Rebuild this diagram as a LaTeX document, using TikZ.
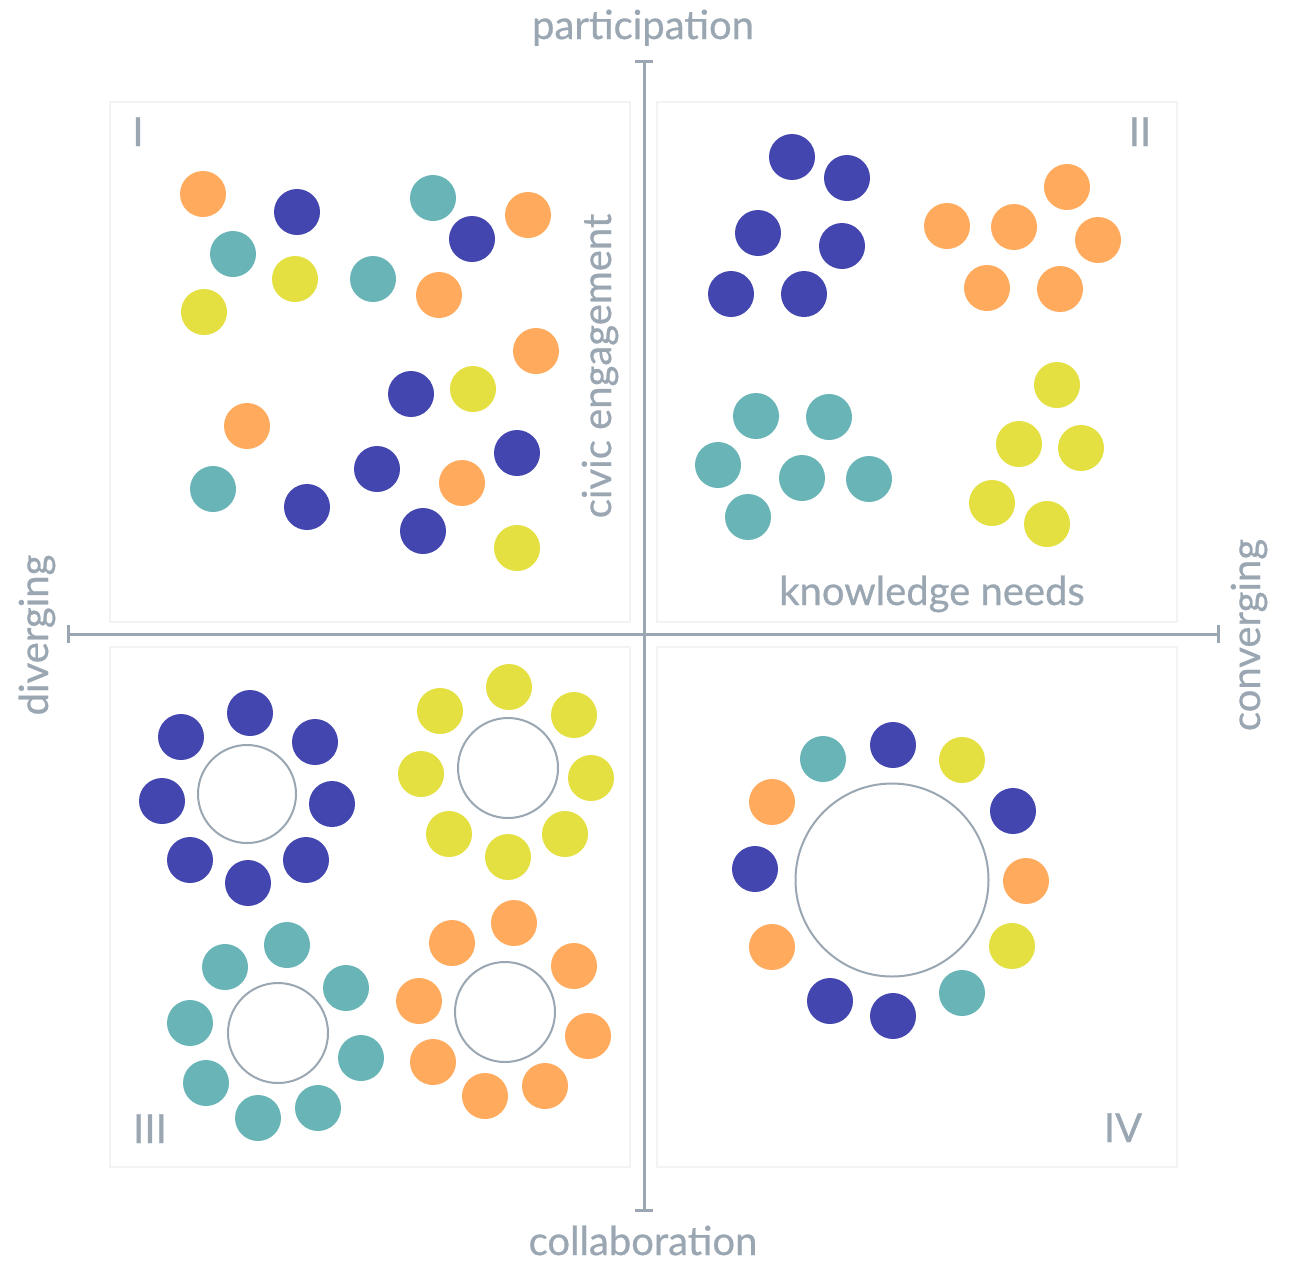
\documentclass[tikz,border=0pt]{standalone}
\usepackage{fontspec}
\setmainfont{Lato}
\newfontfamily\labfont{Lato}[FakeBold=0.6]
\definecolor{cOr}{HTML}{FFAA5C}
\definecolor{cBl}{HTML}{4346AF}
\definecolor{cTe}{HTML}{69B4B6}
\definecolor{cYe}{HTML}{E5E041}
\definecolor{cGr}{HTML}{9AA7B2}
\definecolor{cBox}{HTML}{F3F3F3}
\begin{document}
\begin{tikzpicture}[x=1pt,y=-1pt,
  dot/.style={circle,fill=#1,minimum size=46pt,inner sep=0pt,draw=none},
  ring/.style={circle,draw=cGr,line width=2pt,minimum size=#1,inner sep=0pt},
  lab/.style={text=cGr,font=\labfont\fontsize{40}{48}\selectfont,inner sep=0pt,anchor=base},
  axisline/.style={draw=cGr,line width=3pt},
  qbox/.style={draw=cBox,line width=1.5pt}]
\useasboundingbox[fill=white] (0,0) rectangle (1289,1261);

% quadrant boxes
\draw[qbox] (110,102) rectangle (630,622);
\draw[qbox] (657,102) rectangle (1177,622);
\draw[qbox] (110,647) rectangle (630,1167);
\draw[qbox] (657,647) rectangle (1177,1167);

% axes
\coordinate (top) at (644,61);
\coordinate (bot) at (644,1210);
\coordinate (lft) at (68,634);
\coordinate (rgt) at (1218,634);
\draw[axisline] (top) -- (bot);
\draw[axisline] (lft) -- (rgt);
\draw[axisline] ([xshift=-9pt]top) -- ([xshift=9pt]top);
\draw[axisline] ([xshift=-9pt]bot) -- ([xshift=9pt]bot);
\draw[axisline] ([yshift=-9pt]lft) -- ([yshift=9pt]lft);
\draw[axisline] ([yshift=-9pt]rgt) -- ([yshift=9pt]rgt);

% labels
\node[lab] (participation) at (643,39) {participation};
\node[lab] (collaboration) at (643,1255) {collaboration};
\node[lab,rotate=90] (diverging) at (48,635) {diverging};
\node[lab,rotate=90] (converging) at (1260,635) {converging};
\node[lab,rotate=90] (civic) at (611,366) {civic engagement};
\node[lab] (knowledge) at (932,605) {knowledge needs};
\node[lab] (qI) at (138,146) {I};
\node[lab] (qII) at (1140,146) {II};
\node[lab] (qIII) at (150,1143) {III};
\node[lab] (qIV) at (1123,1142) {IV};

% quadrant I
\foreach \n/\x/\y/\c in {
  a1/203/194/cOr, a2/297/212/cBl, a3/433/198/cTe, a4/528/215/cOr,
  a5/233/254/cTe, a6/472/239/cBl, a7/295/279/cYe, a8/373/279/cTe,
  a9/439/295/cOr, a10/204/312/cYe, a11/536/351/cOr, a12/411/394/cBl,
  a13/473/389/cYe, a14/247/426/cOr, a15/517/453/cBl, a16/213/489/cTe,
  a17/377/469/cBl, a18/462/483/cOr, a19/307/507/cBl, a20/423/531/cBl,
  a21/517/548/cYe}
  \node[dot=\c] (\n) at (\x,\y) {};

% quadrant II
\foreach \n/\x/\y/\c in {
  b1/792/157/cBl, b2/847/178/cBl, b3/758/233/cBl, b4/842/246/cBl,
  b5/731/294/cBl, b6/804/294/cBl,
  b7/1067/187/cOr, b8/947/226/cOr, b9/1014/227/cOr, b10/1098/240/cOr,
  b11/987/288/cOr, b12/1060/289/cOr,
  b13/1057/385/cYe, b14/1019/444/cYe, b15/1081/448/cYe, b16/992/503/cYe,
  b17/1047/524/cYe,
  b18/756/416/cTe, b19/829/417/cTe, b20/718/465/cTe, b21/802/478/cTe,
  b22/869/479/cTe, b23/748/517/cTe}
  \node[dot=\c] (\n) at (\x,\y) {};

% quadrant III
\node[ring=98pt] (ringBl) at (247,794) {};
\node[ring=100pt] (ringYe) at (508,768) {};
\node[ring=100pt] (ringTe) at (278,1033) {};
\node[ring=100pt] (ringOr) at (505,1012) {};
\foreach \n/\x/\y/\c in {
  c1/250/713/cBl, c2/315/742/cBl, c3/332/804/cBl, c4/306/860/cBl,
  c5/248/883/cBl, c6/190/860/cBl, c7/162/801/cBl, c8/181/737/cBl,
  c9/509/687/cYe, c10/574/715/cYe, c11/591/778/cYe, c12/565/834/cYe,
  c13/508/857/cYe, c14/449/834/cYe, c15/421/774/cYe, c16/440/711/cYe,
  c17/287/945/cTe, c18/346/988/cTe, c19/361/1058/cTe, c20/318/1108/cTe,
  c21/258/1118/cTe, c22/206/1083/cTe, c23/190/1023/cTe, c24/225/967/cTe,
  c25/514/923/cOr, c26/574/966/cOr, c27/588/1036/cOr, c28/545/1086/cOr,
  c29/485/1096/cOr, c30/433/1062/cOr, c31/419/1001/cOr, c32/452/943/cOr}
  \node[dot=\c] (\n) at (\x,\y) {};

% quadrant IV
\node[ring=193pt] (ringBig) at (892,880) {};
\foreach \n/\x/\y/\c in {
  d1/823/759/cTe, d2/893/745/cBl, d3/962/760/cYe, d4/1013/811/cBl,
  d5/1026/881/cOr, d6/1012/946/cYe, d7/962/993/cTe, d8/893/1016/cBl,
  d9/830/1001/cBl, d10/772/947/cOr, d11/755/869/cBl, d12/772/802/cOr}
  \node[dot=\c] (\n) at (\x,\y) {};
\end{tikzpicture}
\end{document}
